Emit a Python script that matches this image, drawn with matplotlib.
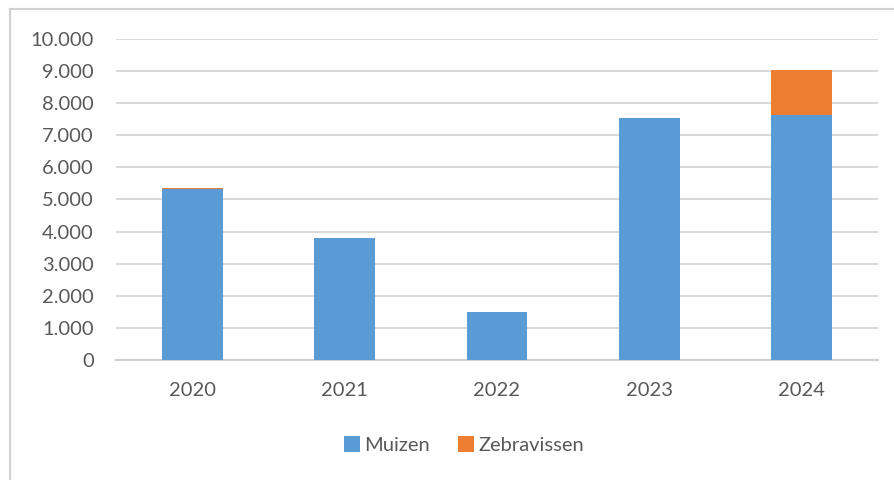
import matplotlib
matplotlib.use("Agg")
import matplotlib.pyplot as plt
from matplotlib.lines import Line2D
from matplotlib.ticker import FuncFormatter

# data
jaren = ["2020", "2021", "2022", "2023", "2024"]
muizen = [5320, 3800, 1500, 7530, 7620]
zebravissen = [40, 0, 0, 0, 1410]

blauw = "#5b9bd5"
oranje = "#ed7d31"
tekst = "#595959"

plt.rcParams['font.family'] = ['Lato', 'DejaVu Sans']

fig = plt.figure(figsize=(8.95, 4.8), dpi=100)
ax = fig.add_axes([116/895, 1 - 360/480, 762/895, 321/480])

x = range(len(jaren))
ax.bar(x, muizen, width=0.4, color=blauw, label="Muizen", zorder=3)
ax.bar(x, zebravissen, width=0.4, bottom=muizen, color=oranje, label="Zebravissen", zorder=3)

ax.set_xlim(-0.5, len(jaren) - 0.5)
ax.set_ylim(0, 10000)
ax.set_yticks(range(0, 10001, 1000))
# punt als duizendtal-scheiding
ax.yaxis.set_major_formatter(FuncFormatter(lambda v, p: f"{int(v):,}".replace(",", ".")))
ax.set_xticks(list(x))
ax.set_xticklabels(jaren)

ax.grid(axis="y", color="#d9d9d9", linewidth=1.5, zorder=0)
for s in ["top", "right", "left"]:
    ax.spines[s].set_visible(False)
ax.spines["bottom"].set_color("#d0d0d0")
ax.spines["bottom"].set_linewidth(1.5)
ax.tick_params(axis="both", length=0, labelsize=14.5, colors=tekst)
ax.tick_params(axis="y", pad=16)
ax.tick_params(axis="x", pad=16)

ax.legend(loc="center", bbox_to_anchor=(464/895, 1 - 445/480), bbox_transform=fig.transFigure,
          ncol=2, frameon=False, fontsize=14.5, labelcolor=tekst,
          handlelength=0.8, handleheight=0.8, handletextpad=0.2, columnspacing=1.4)

# rand van het kader
fig.add_artist(Line2D([10/895, 10/895], [0, 1 - 9/480], color="#d0d0d0", linewidth=1.5))
fig.add_artist(Line2D([10/895, 1], [1 - 9/480, 1 - 9/480], color="#d0d0d0", linewidth=1.5))

fig.savefig("out.png", dpi=100)
